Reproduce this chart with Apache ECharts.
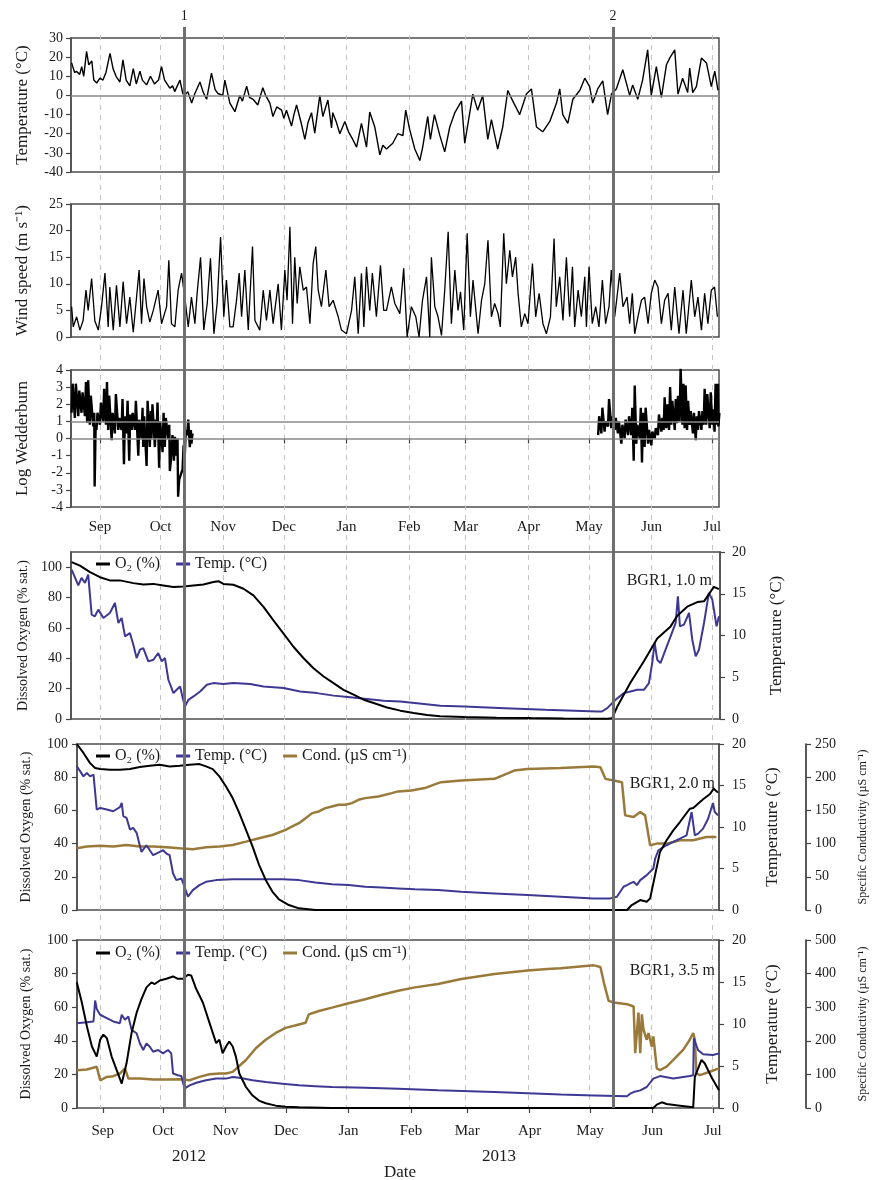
<!DOCTYPE html>
<html><head><meta charset="utf-8">
<script src="https://cdn.jsdelivr.net/npm/echarts@6/dist/echarts.min.js"></script>
<style>html,body{margin:0;padding:0;background:#fff}#c{width:877px;height:1180px}</style>
</head><body><div id="c"></div>
<script>
// ---------- DATA (x = days since 2012-09-01) ----------
const monthLabels = ['Jan','Feb','Mar','Apr','May','Jun','Jul','Aug','Sep','Oct','Nov','Dec'];
const yearLabels = ['2012','2013'];
const eventDays = [41.7, 253.9];
const eventLabels = ['1','2'];
const tempRefLines = [0];
const weddRefLines = [0, 1];

const airTemp = [[-14,17],[-12.5,12],[-11.5,12.5],[-10,11],[-9,15],[-8,10],[-6.6,23],[-5.5,16],[-4,18],[-3,8],[-1.6,6.5],[0,9],[1.5,8],[3,12],[5,22],[6.5,14],[8,10],[9.9,7],[11.4,18.6],[13,8],[14.8,5],[16.5,14],[18,6],[19.8,12.7],[21,8],[23.1,5.5],[25,10],[27,6],[29,8],[30.5,15],[32,8],[34.6,3.8],[36,5],[37,2],[39.6,8],[41,1],[42,0],[43.5,2],[45.4,-4],[47,1],[49.5,7],[51,2],[52.8,-2],[55.2,11.6],[57,3],[58.4,1],[60.8,0],[61.8,8],[64.3,-4],[66.8,-8.5],[69.2,0],[70.5,-3],[72.6,4.8],[74,-1],[75.8,-2],[78.1,-5],[80.6,4],[82,0],[84.1,-4],[85.6,-11],[87.5,-6],[89.9,-7.7],[91,-12],[92.3,-7.7],[94.8,-16],[96,-10],[97.3,-5],[99.5,-14],[101.4,-23],[103,-14],[104.7,-9],[106.3,-19.7],[108.8,0],[110.3,-11],[112.8,-2.4],[114.6,-17],[115.2,-9],[117,-14],[118.7,-20],[121.2,-13.6],[123,-19],[125.1,-23],[127,-27],[129.4,-14.6],[131.9,-27],[133.5,-8.7],[136,-16.5],[138.5,-31],[140,-26],[141.8,-28],[144.9,-25],[147.4,-20],[149.9,-21],[151.3,-7.7],[153.3,-18],[155.8,-28],[158.3,-34],[159.7,-27],[162.2,-11],[163.5,-23],[165.5,-10],[168.2,-21],[170.6,-29.5],[173.1,-16.5],[175.6,-9],[178.9,-3],[180.5,-25],[184.5,0.7],[186.9,-7.7],[189.4,0],[191.9,-23],[193.7,-12.6],[196.8,-28],[199.3,-16.5],[201.8,2.6],[204.3,-3],[207.7,-10],[211,0.7],[213.5,3.4],[216,-16.5],[219.1,-19],[222.6,-13.6],[225.9,-4],[227.5,3.4],[229,-10],[231.5,-14.6],[234,-2],[237.4,2.6],[239.9,9],[242.3,4.6],[243.8,-4],[246.3,3.4],[248.8,7.6],[251.2,-10],[253.1,0.7],[255.5,3.4],[258.7,13.4],[262.1,0],[263.6,5.5],[266.1,-2],[268.5,8],[271,23.8],[272.8,0],[275.3,15],[277.8,-1],[280.3,16],[281.9,19.5],[284.4,23.8],[286,0.7],[288.3,9],[290.8,1.5],[291.8,14.3],[293.3,1.5],[295.1,4.6],[297.6,19.5],[300.1,17],[302.5,4.6],[304.2,12.7],[305.8,2.6]];

const wind = [[-14,5.7],[-13.2,1.9],[-11.5,3.8],[-9.9,1.3],[-8.3,3.1],[-6.9,8.8],[-5.8,5],[-4.1,11],[-2.5,3],[-0.8,1.3],[0.8,5.7],[2.5,12],[4.1,1.9],[4.9,9.4],[6.6,1.3],[8.2,9.7],[9.9,1.9],[11.5,10.4],[13.2,2.5],[14.8,7.5],[16.5,0.9],[19.4,12.6],[20.6,2.5],[21.8,11],[23.1,5.7],[24.7,2.8],[26.4,5],[28.8,8.8],[30.5,2.5],[33,5.7],[34.1,14.4],[35.4,2.5],[37.1,1.9],[38.7,8.8],[40.4,12],[42,7.5],[43.7,1.9],[45.3,7.5],[47,2.5],[48.1,8.2],[49.8,15],[51.4,1.3],[53.1,6.3],[54.7,14.8],[56.4,0.6],[58,6.3],[59.7,18.8],[61.3,3.8],[62.6,10.7],[64.3,1.9],[65.9,1.9],[67.6,6.9],[68.9,12],[70.1,3.8],[71.7,12.6],[73.4,1.3],[75.5,17],[76.7,3.1],[79.1,1.3],[80.8,8.8],[82.4,3.1],[84.1,8.8],[85.7,2.5],[88.2,10],[89.8,1.3],[91.5,12.6],[92.6,6.9],[94,20.7],[95.3,2.5],[96.4,15],[97.6,6.3],[98.9,13.2],[100.6,8.8],[102.2,9.4],[103.9,2.5],[105.5,13.8],[106.8,17],[108,8.8],[109.6,5.7],[111.8,12.6],[113.4,5.7],[115.4,6.9],[117.9,3.8],[119.5,1.3],[122,0.6],[124.5,5],[126.1,11.3],[127.8,0.6],[129.4,12],[130.6,1.9],[131.9,13.2],[133.5,5],[134.8,12],[136.8,3.8],[138.8,13.5],[140.4,5],[141.8,5],[144.2,9.4],[145.9,6.3],[148.4,4.4],[150.3,12.9],[152,0],[154.1,5.7],[156.3,3.8],[157.9,0],[159.6,6.9],[161.6,11.3],[163.2,0],[164,15],[165.7,5.7],[167.3,3.8],[169,0.3],[170.6,8.8],[172.3,19.8],[173.9,2.5],[175.6,12.6],[177.2,5],[178.4,8.5],[180,1.3],[181.7,19.5],[183.3,3.8],[184.6,10.7],[187.1,0.6],[188.8,6.9],[190.4,10],[192,18.2],[193.7,3.8],[195.3,6.3],[197,4.4],[198.1,1.9],[199.8,19.5],[201.1,10],[202.8,16.3],[204.1,11.3],[205.7,15],[206.9,8.2],[208.5,1.9],[210.2,4.4],[211.8,2.5],[214,13.8],[215.6,3.8],[217.3,8.2],[219.2,2.5],[220.9,0.6],[222.9,3.8],[224.7,18.5],[225.8,5.7],[227.5,11.3],[229.1,3.1],[230.8,15],[232.4,3.8],[233.8,13.2],[234.9,1.9],[236.6,8.8],[238.2,3.8],[239.9,11.3],[240.7,1.9],[242,13.2],[243.6,2.5],[245.3,5.7],[246.9,1.9],[248.6,10.7],[250.2,2.5],[251.9,5.7],[253,12.6],[254.7,3.8],[257.2,12],[258.8,5.7],[260.8,7.5],[262.1,2.5],[263.4,8.2],[264.6,0.6],[266.2,3.8],[267.9,6.9],[269.5,7.5],[271.2,2.5],[272.8,8.2],[274.5,10.7],[276.1,9.4],[277.8,2.5],[279.4,6.9],[281.1,8.2],[282.7,1.3],[284.4,9.4],[286.5,0.6],[288.5,8.8],[290.1,0.6],[292.6,10.7],[294.3,3.8],[295.9,7.5],[297.6,1.3],[299.2,8.2],[300.8,2.5],[302.5,8.8],[304.1,9.4],[305.5,3.8]];

const wedd1Days = [-14,-12.4,-10.7,-9.1,-7.4,-6.3,-5,-3.3,-2.6,-1.7,0,1.6,3,4.1,5.8,7.4,9.1,10.7,11.9,13.2,14.5,15.7,17.3,19,20.6,21.4,23.1,24.7,25.5,27.2,28,29.3,31,32.1,33.8,34.6,35.4,36.6,37.9,38.7,40.9,42,43.2,44.5,45.3];
const wedd1Low  = [1.5,1.2,1.3,1.5,1.3,0.9,0.8,0.7,-2.8,0.5,0.8,1,0.8,0.5,-0.1,0.3,0.5,0.5,-1.5,0.3,-1.3,0.5,0.5,-1,0,-0.5,-1.6,-0.5,0,-0.5,0,-1.7,-0.8,-0.5,0,-1.9,-0.5,-1.3,-1,-3.4,-1.8,-1,0.2,-0.5,-0.3];
const wedd1High = [3.2,3.2,2.8,2.7,3.3,3.4,2.5,1.5,0.8,1.5,2.1,2.9,3.3,2.5,1.5,2.6,1.2,2.3,1.3,2.2,1.4,1.5,2.2,1.1,1.8,1.3,2.2,1.6,2,1.1,2.1,1,1.5,1.2,0.8,-1.3,0.2,0.1,0,-2.4,-0.4,0.5,1.1,0.5,0.3];
const wedd2Days = [246.5,248.1,249.7,251.4,253,254.7,256.3,258,259.6,261.3,262.9,264.1,265.4,267.1,268.2,269.5,271.2,272.8,274.5,276.1,277.8,278.9,280.2,281.6,282.7,284.4,285.5,286.8,288.2,289.3,290.5,291.8,293.4,294.8,295.9,297.6,298.7,300,301.7,303,304.1,305.3,306];
const wedd2Low  = [0.2,0.3,0.4,0.7,0.6,0.5,0.3,-0.3,0,0.2,0.2,-1.3,-0.3,0,-1.4,-0.5,-0.3,-0.4,0,0.2,0.4,0.5,0.6,0.5,0.8,0.5,0.9,1,0.8,0.6,0.5,0.8,0.3,-0.1,0.5,0.5,0.8,0.8,0.6,0.8,0.4,0.8,0.7];
const wedd2High = [1.3,1.8,1,2.3,1.3,1.2,1,0.8,1.1,1.3,1.8,3.1,0.8,1.8,1.5,1.8,0.5,0.4,0.6,1.4,1.2,2.4,2,3,2.2,2.3,2.5,4.1,3.2,3.1,2.2,1.6,1.5,1.3,1.6,1.6,2.9,2.6,2.7,1.7,3.2,3.2,1.5];

const o2_1m = [[-14,103.3],[-9.9,101],[-4.9,96.7],[0,93.4],[4.9,91.3],[9.9,91.3],[16.5,89.5],[21.4,88.6],[26.4,89],[31.3,88],[36.3,87],[41.2,87.3],[46.2,88],[51.1,88.6],[56,90.2],[58.5,90.8],[61,89],[65.9,88.4],[70.9,85.8],[75.8,81.4],[80.8,73.8],[85.7,65],[90.7,56.3],[95.6,47.6],[100.6,40],[105.5,33.4],[110.5,28],[115.4,23.6],[120.3,19.2],[125.3,16],[130.2,12.7],[135.2,10.5],[141.8,7.6],[148.4,5.5],[155,3.9],[161.6,2.6],[168,1.8],[180,1.3],[196,0.9],[213,0.6],[229,0.4],[250.6,0.2],[253,0.5],[255.5,8],[262.1,24],[268.7,38],[275.3,53],[281.9,61],[285.2,68],[290.1,74],[295.1,77],[298.4,77.5],[301.7,84],[303.3,87],[305.8,85.5]];
const temp_1m = [[-14,17.9],[-12.4,17],[-10.7,16],[-9.1,16.9],[-7.4,16.3],[-5.8,17.3],[-4.1,12.5],[-2.5,12.3],[-0.8,13.1],[1.7,12.1],[4.9,12.7],[7.4,13.9],[9.1,11.5],[10.7,12.1],[12.4,9.9],[14.8,10.3],[16.5,8.9],[18.1,7.3],[19.8,8.3],[21.4,8.5],[23.9,6.9],[26.4,7.1],[28.8,7.9],[30.5,6.9],[32.1,7.3],[33.8,4.7],[36.3,3.1],[37.9,3.5],[39.6,3.9],[40.9,2.5],[42,1.5],[43.7,2.3],[46.2,2.7],[49.5,3.3],[52.8,4.1],[56,4.3],[61,4.2],[65.9,4.3],[74.2,4.2],[80.8,3.9],[90.7,3.7],[98.9,3.3],[107.2,3.1],[115.4,2.8],[123.6,2.6],[131.9,2.4],[140.1,2.2],[148.4,2.1],[156.6,1.9],[168.1,1.6],[180,1.5],[200,1.3],[220,1.1],[245.6,0.9],[248,0.9],[250.6,1.3],[254.7,2.3],[258.8,3.1],[262.1,3.3],[265.4,3.5],[268.7,3.5],[271.2,4.3],[272.8,6.7],[274,9.1],[275.3,7.1],[276.9,6.7],[279.4,8.3],[281.9,9.9],[284.4,11.5],[285.5,14.7],[286.5,11.1],[288.5,11.3],[291,12.7],[292.6,9.5],[294.3,7.5],[295.9,8.3],[298.4,11.5],[300.8,15.1],[302.5,14.3],[303.3,13.1],[304.6,11.1],[305.8,12.3]];

const o2_2m = [[-12.9,100],[-9.6,94.6],[-6.3,88.5],[-3.8,85.5],[-1.3,84.9],[3.6,84.5],[8.5,84.5],[13.5,84.9],[18.4,86.1],[23.3,86.9],[28.3,87.5],[33.2,86.5],[38.2,86.9],[43.1,87.5],[48,87.9],[51.3,86.5],[54.6,84.9],[57.9,80.5],[61.2,74.4],[64.5,67.4],[67.8,58.4],[71.1,48.3],[74.4,38.2],[77.6,27.2],[80.9,18.1],[84.2,11.1],[87.5,6.4],[92.4,3],[97.4,1],[105.6,0],[166.5,0],[260.3,0],[262.7,3],[266.9,6],[270.1,5],[271.8,7],[276.7,35],[280,42],[283.3,48],[286.6,53],[291.5,61],[293.2,61.4],[298.1,66.7],[301.4,69.7],[303.4,73.1],[305.5,70.7]];
const temp_2m = [[-12.9,17.3],[-11.2,16.7],[-9.6,16.1],[-7.9,16.5],[-6.3,16.1],[-4.6,16.3],[-3,12.1],[-1.3,12.3],[2,12.1],[5.2,11.9],[8.5,12.4],[9.4,12.9],[10.2,11.3],[11.8,11.1],[13.5,9.7],[15.1,9.9],[16.8,9.3],[19.2,7],[21.7,7.8],[25,6.6],[28.3,7],[29.9,7.2],[31.6,6.8],[33.2,6.6],[34.9,4.4],[36.5,3.6],[39,3.8],[40.6,2.8],[42.3,1.6],[44.7,2.4],[48,3],[51.3,3.4],[56.3,3.6],[64.5,3.7],[72.7,3.7],[80.9,3.7],[89.2,3.7],[97.4,3.6],[105.6,3.3],[113.8,3.1],[122.1,3],[130.3,2.8],[138.5,2.7],[146.7,2.6],[155,2.5],[166.5,2.4],[178,2.2],[194.5,2],[210.9,1.8],[227.4,1.6],[243.8,1.4],[252,1.4],[255.3,1.6],[258.6,2.8],[260.3,3],[261.9,3.2],[263.6,3.4],[265.2,3],[266.9,3.6],[270.1,4.2],[271.8,4.6],[273.4,5],[274.3,6.2],[275.9,7.2],[280,7.8],[283.3,8.2],[286.6,8.6],[289.9,9],[292.4,11.8],[294,9],[295.6,9.2],[298.1,9.8],[300.6,11],[303,12.9],[303.9,11.8],[305.5,11.4]];
const cond_2m = [[-12.9,93],[-7.9,95.6],[-1.3,96.6],[5.2,95.6],[11.8,98],[18.4,95.6],[25,95.6],[31.6,94.6],[38.2,93],[44.7,91.5],[51.3,94.6],[57.9,95.6],[64.5,98],[71.1,103],[77.6,108],[84.2,113],[90.8,120.7],[94.1,125.8],[97.4,130.8],[100.7,138.3],[104,145.9],[107.3,148.4],[110.5,153.4],[113.8,155.9],[117.1,158.4],[120.4,158.4],[123.7,161],[127,166],[130.3,168.5],[136.9,171],[143.5,176],[146.7,178.6],[153.3,180],[159.9,183.6],[166.5,191],[168.1,192.5],[178,195],[194.5,197.5],[204.3,210],[210.9,212.5],[227.4,214],[243.8,216],[247.1,215],[249.6,197.5],[253.7,195],[257.8,192.5],[259.4,142.5],[263.6,140],[266.9,147.5],[269.3,142.5],[271.8,97.5],[275.1,100],[280,100],[286.6,105],[293.2,105],[299.7,110],[304.7,110]];

const o2_3m = [[-12.9,74.8],[-10.4,62.8],[-7.9,48.7],[-5.4,36.6],[-3,30.6],[-1.3,40.6],[0.3,43.7],[2,41.6],[4.4,30.6],[6.9,22.5],[9.4,14.5],[11.8,26.6],[14.3,44.7],[16.8,56.7],[19.2,64.8],[21.7,71.8],[24.2,74.8],[25.8,73.8],[28.3,75.9],[31.6,76.9],[34.9,78.3],[37.3,76.9],[39.8,76.9],[42.3,79.3],[43.9,78.9],[46.4,70.8],[49.7,62.8],[53,50.7],[56.3,38.6],[57.9,40.6],[59.5,32.6],[61.2,36.6],[62.8,39.6],[64.5,36.6],[66.1,30.6],[67.8,20.5],[71.1,12.5],[74.4,7.4],[77.6,4.4],[80.9,2.8],[85.9,1.4],[90.8,0.8],[97.4,0.4],[113.8,0],[166.5,0],[273.4,0],[275.1,2],[277.6,3.4],[280,2.4],[286.6,1.4],[293.2,0.4],[294,18.5],[297.3,28.6],[298.9,26.6],[302.2,18.5],[306,10.5]];
const temp_3m = [[-12.9,10.1],[-7.9,10.2],[-4.6,10.3],[-3.8,12.8],[-3,11.8],[-1.3,11.1],[2,10.7],[5.2,10.3],[8.5,10.1],[9.4,11.1],[11,10.5],[12.7,10.9],[14.3,9.3],[16.8,8.9],[18.4,7.7],[20.1,6.9],[21.7,7.7],[23.3,7.3],[25,6.7],[27.5,6.9],[29.9,6.5],[32.4,6.9],[34,6.5],[34.9,4.1],[37.3,3.9],[39,3.8],[40.6,2.3],[43.1,2.7],[46.4,3],[51.3,3.3],[56.3,3.5],[61.2,3.5],[64.5,3.7],[67.8,3.6],[74.4,3.3],[80.9,3.1],[89.2,2.9],[97.4,2.7],[105.6,2.6],[113.8,2.5],[130.3,2.4],[146.7,2.3],[166.5,2.1],[194.5,1.9],[227.4,1.6],[243.8,1.5],[260.3,1.4],[261.9,1.7],[263.6,1.9],[266.9,2.1],[270.1,2.5],[273.4,3.5],[276.7,3.8],[283.3,3.5],[288.2,3.7],[291.5,3.8],[293.2,3.9],[293.5,8.3],[295.6,6.9],[298.1,6.4],[303,6.3],[306,6.5]];
const cond_3m = [[-12.9,112.7],[-7.9,114.7],[-3,122.7],[-1.3,82.5],[2,92.6],[5.2,94.6],[8.5,102.6],[11,117.7],[12.7,87.5],[18.4,87.5],[25,84.5],[31.6,84.5],[38.2,85.5],[43.1,82.5],[48,92.6],[53,100.6],[57.9,102.6],[61.2,102.6],[64.5,107.6],[71.1,142.9],[76,178],[80.9,203.2],[85.9,223.3],[90.8,238.4],[97.4,248.5],[100.7,253.5],[102.3,278.7],[107.3,288.7],[113.8,298.8],[122.1,311.9],[130.3,323.9],[138.5,337],[146.7,349],[155,359],[166.5,369],[178,384],[194.5,399],[210.9,409],[220.8,414],[227.4,416],[243.8,424.5],[247.1,419.5],[248.8,374],[251.2,319],[253.7,314],[260.3,309],[263.6,302],[264.4,163],[266,284],[266.9,163],[267.7,279],[268.5,233],[270.1,203],[271,223],[272.6,183],[273.4,213],[275.1,118],[276.7,113],[280,123],[283.3,143],[288.2,173],[291.5,203],[293.2,223],[294,203],[294.8,103],[296.5,98],[301.4,108],[306,118]];

// ---------- HELPERS ----------
const FONT = '"Liberation Serif", "Times New Roman", serif';
const TXT = '#1a1a1a';
const C_O2 = '#000000', C_T = '#3d3891', C_C = '#9a7a3a';
const BASE = Date.UTC(2012, 8, 1), DAY = 86400000;
const ts = d => BASE + d * DAY;
const pts = arr => arr.map(p => [ts(p[0]), p[1]]);
const zig = (days, lo, hi) => { const out = []; days.forEach((d, i) => { out.push([ts(d), lo[i]]); out.push([ts(d + 0.5), hi[i]]); }); return out; };
const TOP = [-14.3, 306.3], BOT = [-12.8, 306.0];
const N_O2 = 'O\u2082 (%)', N_T = 'Temp. (\u00B0C)', N_C = 'Cond. (\u00B5S cm\u207B\u00B9)';

const monthFmt = v => { const d = new Date(v); return (d.getUTCDate() === 1 && d.getUTCHours() === 0) ? monthLabels[d.getUTCMonth()] : ''; };

function xAx(grid, range, labels, margin) {
  return { type: 'time', gridIndex: grid, min: ts(range[0]), max: ts(range[1]),
    minInterval: 28 * DAY, maxInterval: 31 * DAY, splitNumber: 11,
    axisLine: { show: false },
    axisTick: { show: labels, length: 5, lineStyle: { color: '#444', width: 1.2 } },
    axisLabel: { show: labels, formatter: monthFmt, fontFamily: FONT, fontSize: 15, color: TXT, margin: margin || 10 },
    splitLine: { show: false } };
}
function yAx(grid, o) {
  return { type: 'value', gridIndex: grid, min: o.min, max: o.max, interval: o.interval,
    position: o.position || 'left', offset: o.offset || 0,
    name: o.name, nameLocation: 'middle', nameRotate: 90, nameGap: o.nameGap,
    nameTextStyle: { fontFamily: FONT, fontSize: o.nameSize || 17, color: TXT },
    axisLine: { show: true, lineStyle: { color: o.lineColor || '#4d4d4d', width: 1.5 } },
    axisTick: { show: true, length: 5, lineStyle: { color: '#444', width: 1.2 } },
    axisLabel: { fontFamily: FONT, fontSize: 14, color: TXT, margin: o.margin || 8, showMaxLabel: o.showMax !== false },
    splitLine: { show: false } };
}
function line(name, data, x, y, color, width, z) {
  return { type: 'line', name, data, xAxisIndex: x, yAxisIndex: y, showSymbol: false, symbol: 'none',
    color, lineStyle: { color, width }, z: z || 2, animation: false };
}
function legend(top, names) {
  return { top, left: 96, data: names, icon: 'rect', itemWidth: 14, itemHeight: 3, itemGap: 16, padding: 0,
    selectedMode: false, textStyle: { fontFamily: FONT, fontSize: 16, color: TXT } };
}
const refLine = vals => ({ silent: true, symbol: ['none', 'none'], label: { show: false },
  lineStyle: { color: '#8a8a8a', width: 1.5, type: 'solid' }, data: vals.map(v => ({ yAxis: v })) });
const title = (text, pos, size) => Object.assign({ text, padding: 0,
  textStyle: { fontFamily: FONT, fontSize: size || 16, fontWeight: 'normal', color: TXT } }, pos);

const gridBox = { show: true, borderColor: '#4d4d4d', borderWidth: 1.5, backgroundColor: 'transparent' };

const option = {
  useUTC: true, animation: false, backgroundColor: '#fff',
  grid: [
    Object.assign({ left: 71, top: 38, width: 648, height: 134 }, gridBox),
    Object.assign({ left: 71, top: 204, width: 648, height: 133 }, gridBox),
    Object.assign({ left: 71, top: 370, width: 648, height: 137 }, gridBox),
    Object.assign({ left: 71, top: 552, width: 649, height: 167 }, gridBox),
    Object.assign({ left: 77, top: 744, width: 646, height: 166 }, gridBox),
    Object.assign({ left: 77, top: 940, width: 646, height: 168 }, gridBox),
    { left: 71, top: 35, width: 648, height: 1073, show: false },
    { left: 71, top: 27, width: 648, height: 1081, show: false }
  ],
  xAxis: [
    xAx(0, TOP, false), xAx(1, TOP, false), xAx(2, TOP, true, 13), xAx(3, TOP, false),
    xAx(4, BOT, false), xAx(5, BOT, true, 16),
    Object.assign(xAx(6, TOP, false), { splitLine: { show: true, showMinLine: false, showMaxLine: false, lineStyle: { color: '#c4c4c4', width: 1, type: [5, 5] } } }),
    xAx(7, TOP, false)
  ],
  yAxis: [
    yAx(0, { min: -40, max: 30, interval: 10, name: 'Temperature (\u00B0C)', nameGap: 40 }),
    yAx(1, { min: 0, max: 25, interval: 5, name: 'Wind speed (m s\u207B\u00B9)', nameGap: 40 }),
    yAx(2, { min: -4, max: 4, interval: 1, name: 'Log Wedderburn', nameGap: 40 }),
    yAx(3, { min: 0, max: 110, interval: 20, name: 'Dissolved Oxygen (% sat.)', nameGap: 39, nameSize: 14, showMax: false, margin: 9 }),
    yAx(3, { min: 0, max: 20, interval: 5, position: 'right', name: 'Temperature (\u00B0C)', nameGap: 48, margin: 12 }),
    yAx(4, { min: 0, max: 100, interval: 20, name: 'Dissolved Oxygen (% sat.)', nameGap: 44, nameSize: 14, margin: 9 }),
    yAx(4, { min: 0, max: 20, interval: 5, position: 'right', name: 'Temperature (\u00B0C)', nameGap: 45, margin: 13 }),
    yAx(4, { min: 0, max: 250, interval: 50, position: 'right', offset: 87, name: 'Specific Conductivity (\u00B5S cm\u207B\u00B9)', nameGap: 51, nameSize: 12, margin: 9, lineColor: '#222' }),
    yAx(5, { min: 0, max: 100, interval: 20, name: 'Dissolved Oxygen (% sat.)', nameGap: 44, nameSize: 14, margin: 9 }),
    yAx(5, { min: 0, max: 20, interval: 5, position: 'right', name: 'Temperature (\u00B0C)', nameGap: 45, margin: 13 }),
    yAx(5, { min: 0, max: 500, interval: 100, position: 'right', offset: 87, name: 'Specific Conductivity (\u00B5S cm\u207B\u00B9)', nameGap: 51, nameSize: 12, margin: 9, lineColor: '#222' }),
    { type: 'value', gridIndex: 6, min: 0, max: 1, show: false },
    { type: 'value', gridIndex: 7, min: 0, max: 1, show: false }
  ],
  legend: [ legend(556, [N_O2, N_T]), legend(748, [N_O2, N_T, N_C]), legend(945, [N_O2, N_T, N_C]) ],
  title: [
    title('BGR1, 1.0 m', { right: 165, top: 573 }),
    title('BGR1, 2.0 m', { right: 162, top: 776 }),
    title('BGR1, 3.5 m', { right: 162, top: 963 }),
    title(yearLabels[0], { left: 172, top: 1148 }, 17),
    title(yearLabels[1], { left: 482, top: 1148 }, 17),
    title('Date', { left: 384, top: 1164 }, 17)
  ],
  series: [
    Object.assign(line('air', pts(airTemp), 0, 0, '#000', 1.4), { markLine: refLine(tempRefLines) }),
    line('wind', pts(wind), 1, 1, '#000', 1.3),
    Object.assign(line('wedd', zig(wedd1Days, wedd1Low, wedd1High).concat([[ts(150), null]], zig(wedd2Days, wedd2Low, wedd2High)), 2, 2, '#000', 2.4), { markLine: refLine(weddRefLines), connectNulls: false }),
    line(N_T, pts(temp_1m), 3, 4, C_T, 2),
    line(N_O2, pts(o2_1m), 3, 3, C_O2, 2, 3),
    line(N_C, pts(cond_2m), 4, 7, C_C, 2.5),
    line(N_T, pts(temp_2m), 4, 6, C_T, 2),
    line(N_O2, pts(o2_2m), 4, 5, C_O2, 2, 3),
    line(N_C, pts(cond_3m), 5, 10, C_C, 2.5),
    line(N_T, pts(temp_3m), 5, 9, C_T, 2),
    line(N_O2, pts(o2_3m), 5, 8, C_O2, 2, 3),
    { type: 'line', name: 'events', xAxisIndex: 7, yAxisIndex: 12, data: [], z: 20, animation: false,
      markLine: { silent: true, symbol: ['none', 'none'],
        lineStyle: { color: '#6e6e6e', width: 3, type: 'solid' },
        label: { show: true, position: 'end', fontFamily: FONT, fontSize: 14, color: TXT, distance: 4 },
        data: eventDays.map((d, i) => ({ xAxis: ts(d), label: { formatter: eventLabels[i] } })) } }
  ]
};
const chart = echarts.init(document.getElementById('c'), null, { renderer: 'canvas' });
chart.setOption(option);
</script></body></html>
